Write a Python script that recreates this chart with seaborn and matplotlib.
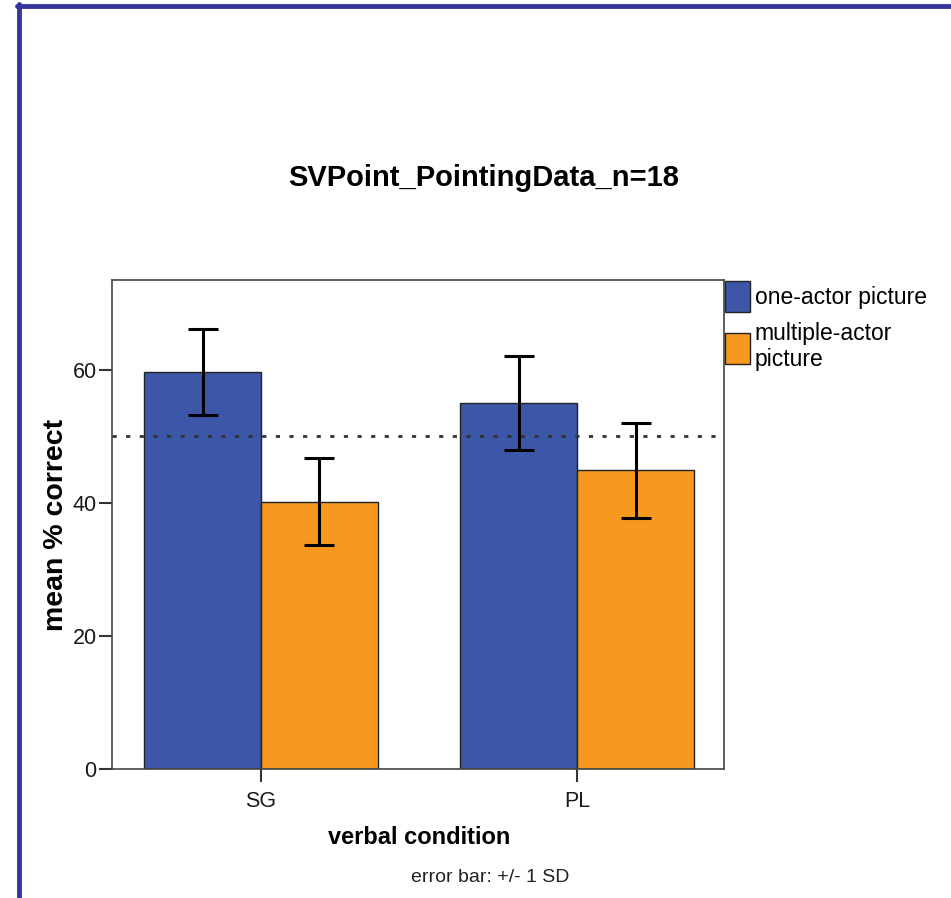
import matplotlib
matplotlib.use("Agg")
import matplotlib.pyplot as plt
from matplotlib.patches import Patch
from matplotlib.lines import Line2D
import seaborn as sns
import pandas as pd

# Pointing data: mean % correct per verbal condition and picture type
conditions = ["SG", "PL"]
pictures = ["one-actor picture", "multiple-actor\npicture"]
mean_one = [59.7, 55.0]
mean_multi = [40.2, 44.9]
sd_one = [6.5, 7.1]
sd_multi = [6.5, 7.1]
chance_level = 50
y_ticks = [0, 20, 40, 60]

blue = "#3D57A8"
orange = "#F7991E"
frame_blue = "#35359B"

df = pd.DataFrame({
    "condition": conditions * 2,
    "picture": [pictures[0]] * 2 + [pictures[1]] * 2,
    "mean": mean_one + mean_multi,
    "sd": sd_one + sd_multi,
})

sns.set_theme(style="white")
plt.rcParams["font.family"] = ["Liberation Sans", "DejaVu Sans"]
plt.rcParams["text.color"] = "black"

fig = plt.figure(figsize=(9.51, 8.98), dpi=100)
ax = fig.add_axes([112 / 951, 1 - 769 / 898, (724 - 112) / 951, (769 - 280) / 898])

sns.barplot(data=df, x="condition", y="mean", hue="picture",
            order=conditions, hue_order=pictures,
            palette=[blue, orange], width=0.74, errorbar=None,
            edgecolor="#222222", linewidth=1.0, saturation=1, ax=ax,
            legend=False)

# +/- 1 SD error bars at the centre of every bar
for container, sds in zip(ax.containers, [sd_one, sd_multi]):
    for bar, sd in zip(container, sds):
        cx = bar.get_x() + bar.get_width() / 2
        ax.errorbar(cx, bar.get_height(), yerr=sd, color="black",
                    capsize=10.5, capthick=2.2, elinewidth=2.2, zorder=5)

ax.axhline(chance_level, color="#333333", linestyle=(0, (1.5, 3.4)),
           linewidth=2, zorder=4)

ax.set_xlim(-0.4715, 1.465)
ax.set_ylim(0, 73.5)
ax.set_yticks(y_ticks)
ax.set_yticklabels([str(t) for t in y_ticks])

for s in ax.spines.values():
    s.set_visible(True)
    s.set_color("#444444")
    s.set_linewidth(1.2)

ax.tick_params(axis="both", which="major", direction="out", length=9.5, width=1.5,
               color="#333333", labelsize=15.5, labelcolor="#1a1a1a",
               left=True, bottom=True)
ax.tick_params(axis="x", pad=6)
ax.tick_params(axis="y", pad=1.5)

ax.set_xlabel("")
ax.set_ylabel("")
fig.text(419 / 951, 1 - 838 / 898, "verbal condition",
         ha="center", va="center", fontsize=17, fontweight="bold")
fig.text(56 / 951, 1 - 525 / 898, "mean % correct", rotation=90,
         ha="center", va="center", fontsize=20.5, fontweight="bold")

fig.text(484 / 951, 1 - 178 / 898, "SVPoint_PointingData_n=18",
         ha="center", va="center", fontsize=21, fontweight="bold")
fig.text(490 / 951, 1 - 877 / 898, "error bar: +/- 1 SD",
         ha="center", va="center", fontsize=14, color="#222222")

handles = [Patch(facecolor=blue, edgecolor="#222222"),
           Patch(facecolor=orange, edgecolor="#222222")]
ax.legend(handles, pictures, loc="upper left", bbox_to_anchor=(1.0, 1.0),
          frameon=False, fontsize=16.5, handlelength=1.09, handleheight=1.7,
          handletextpad=0.2, borderaxespad=0.05, labelspacing=0.42,
          borderpad=0.0)

# dark blue page frame along the top and left edges
fig.add_artist(Line2D([17 / 951, 1], [1 - 6 / 898, 1 - 6 / 898],
                      transform=fig.transFigure, color=frame_blue, linewidth=3.5))
fig.add_artist(Line2D([19 / 951, 19 / 951], [0, 1 - 4 / 898],
                      transform=fig.transFigure, color=frame_blue, linewidth=3.5))

fig.savefig("out.png", dpi=100, facecolor="white")
